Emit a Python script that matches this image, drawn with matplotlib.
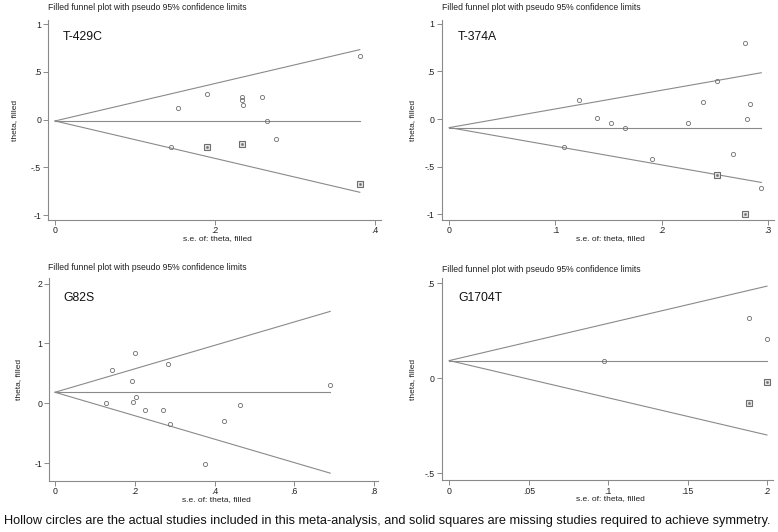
import matplotlib
matplotlib.use("Agg")
import matplotlib.pyplot as plt
import numpy as np

plt.rcParams['font.family'] = ['Liberation Sans', 'DejaVu Sans']

W, H = 778, 532

# ---------------- data ----------------
genes = ["T-429C", "T-374A", "G82S", "G1704T"]

# T-429C
se_obs_1 = [0.381, 0.154, 0.190, 0.234, 0.234, 0.235, 0.259, 0.265, 0.276, 0.145]
th_obs_1 = [0.663, 0.119, 0.270, 0.235, 0.200, 0.154, 0.235, -0.018, -0.200, -0.284]
se_fill_1 = [0.190, 0.234, 0.381]
th_fill_1 = [-0.291, -0.256, -0.677]
pooled_1 = -0.015

# T-374A
se_obs_2 = [0.108, 0.1225, 0.1395, 0.152, 0.1656, 0.191, 0.225, 0.239, 0.2526,
            0.267, 0.279, 0.2805, 0.283, 0.294]
th_obs_2 = [-0.298, 0.200, 0.014, -0.046, -0.091, -0.424, -0.046, 0.175, 0.396,
            -0.371, 0.802, -0.004, 0.154, -0.729]
se_fill_2 = [0.2526, 0.279]
th_fill_2 = [-0.592, -0.995]
pooled_2 = -0.09

# G82S
se_obs_3 = [0.128, 0.142, 0.193, 0.196, 0.2015, 0.204, 0.226, 0.270, 0.283,
            0.289, 0.375, 0.425, 0.464, 0.690]
th_obs_3 = [0.011, 0.563, 0.368, 0.022, 0.837, 0.100, -0.112, -0.112, 0.664,
            -0.351, -1.015, -0.301, -0.028, 0.307]
se_fill_3 = []
th_fill_3 = []
pooled_3 = 0.184

# G1704T
se_obs_4 = [0.0973, 0.1887, 0.1998]
th_obs_4 = [0.093, 0.316, 0.207]
se_fill_4 = [0.1887, 0.1998]
th_fill_4 = [-0.130, -0.021]
pooled_4 = 0.093

xticks = [[0, 0.2, 0.4], [0, 0.1, 0.2, 0.3], [0, 0.2, 0.4, 0.6, 0.8],
          [0, 0.05, 0.1, 0.15, 0.2]]
xticklabels = [["0", ".2", ".4"], ["0", ".1", ".2", ".3"],
               ["0", ".2", ".4", ".6", ".8"], ["0", ".05", ".1", ".15", ".2"]]
yticks = [[-1, -0.5, 0, 0.5, 1], [-1, -0.5, 0, 0.5, 1], [-1, 0, 1, 2],
          [-0.5, 0, 0.5]]
yticklabels = [["-1", "-.5", "0", ".5", "1"], ["-1", "-.5", "0", ".5", "1"],
               ["-1", "0", "1", "2"], ["-.5", "0", ".5"]]
xlims = [(-0.00875, 0.4075), (-0.0072, 0.306), (-0.0143, 0.81), (-0.0048, 0.2038)]
ylims = [(-1.052, 1.042), (-1.061, 1.035), (-1.30, 2.09), (-0.537, 0.529)]

title_text = "Filled funnel plot with pseudo 95% confidence limits"
xlabel_text = "s.e. of: theta, filled"
ylabel_text = "theta, filled"
caption = ("Hollow circles are the actual studies included in this meta-analysis, "
           "and solid squares are missing studies required to achieve symmetry.")

panels = [
    (se_obs_1, th_obs_1, se_fill_1, th_fill_1, pooled_1),
    (se_obs_2, th_obs_2, se_fill_2, th_fill_2, pooled_2),
    (se_obs_3, th_obs_3, se_fill_3, th_fill_3, pooled_3),
    (se_obs_4, th_obs_4, se_fill_4, th_fill_4, pooled_4),
]

# axes boxes in pixels: left, right, top, bottom
boxes = [(48, 381, 20, 220), (441.7, 774, 20.5, 220),
         (49.3, 378, 278.3, 481), (441.7, 773.3, 277.7, 480.3)]
title_pos = [(48, 7), (441.7, 7), (48, 268), (441.7, 269)]
gene_pos = [(63, 37), (458, 37), (63, 298), (458, 298)]
ylabel_x = [15, 413, 18.5, 413]
xlabel_y = [239, 239, 499.5, 499]

LINE = '#8a8a8a'
MARK = '#6e6e6e'
TXT = '#222222'

fig = plt.figure(figsize=(W / 100, H / 100), dpi=100)
fig.patch.set_facecolor('white')

def fx(x):
    return x / W

def fy(y):
    return 1 - y / H

for i, (se_o, th_o, se_f, th_f, pooled) in enumerate(panels):
    l, r, t, b = boxes[i]
    ax = fig.add_axes([fx(l), fy(b), (r - l) / W, (b - t) / H])
    se_all = list(se_o) + list(se_f)
    semax = max(se_all)
    xs = np.array([0.0, semax])
    ax.plot(xs, pooled + 1.96 * xs, color=LINE, lw=0.8)
    ax.plot(xs, pooled - 1.96 * xs, color=LINE, lw=0.8)
    ax.plot(xs, [pooled, pooled], color=LINE, lw=0.8)
    ax.plot(se_o, th_o, linestyle='none', marker='o', ms=3.0, mfc='none',
            mec=MARK, mew=0.6)
    if len(se_f):
        ax.plot(se_f, th_f, linestyle='none', marker='s', ms=4.2, mfc='#e8e8e8',
                mec=MARK, mew=0.8)
        ax.plot(se_f, th_f, linestyle='none', marker='o', ms=1.6, mfc=MARK,
                mec=MARK, mew=0.3)
    ax.set_xlim(*xlims[i])
    ax.set_ylim(*ylims[i])
    ax.set_xticks(xticks[i])
    ax.set_xticklabels(xticklabels[i])
    ax.set_yticks(yticks[i])
    ax.set_yticklabels(yticklabels[i])
    for s in ['top', 'right']:
        ax.spines[s].set_visible(False)
    for s in ['left', 'bottom']:
        ax.spines[s].set_color(LINE)
        ax.spines[s].set_linewidth(0.8)
    ax.tick_params(axis='both', direction='out', length=3.5, width=0.7,
                   color=LINE, labelsize=6.3, labelcolor=TXT, pad=1.5)
    ax.tick_params(axis='x', pad=1)
    ax.set_facecolor('white')
    fig.text(fx(title_pos[i][0]), fy(title_pos[i][1]), title_text, fontsize=6.2,
             color=TXT, ha='left', va='center')
    fig.text(fx(gene_pos[i][0]), fy(gene_pos[i][1]), genes[i], fontsize=8.8,
             color='#111111', ha='left', va='center')
    fig.text(fx(ylabel_x[i]), fy((t + b) / 2), ylabel_text, fontsize=6,
             color=TXT, ha='center', va='center', rotation=90)
    fig.text(fx((l + r) / 2 + 3), fy(xlabel_y[i]), xlabel_text, fontsize=6,
             color=TXT, ha='center', va='center')

fig.text(fx(4), fy(521), caption, fontsize=9.2, color='#111111',
         ha='left', va='center')

fig.savefig('out.png', dpi=100, facecolor='white')
